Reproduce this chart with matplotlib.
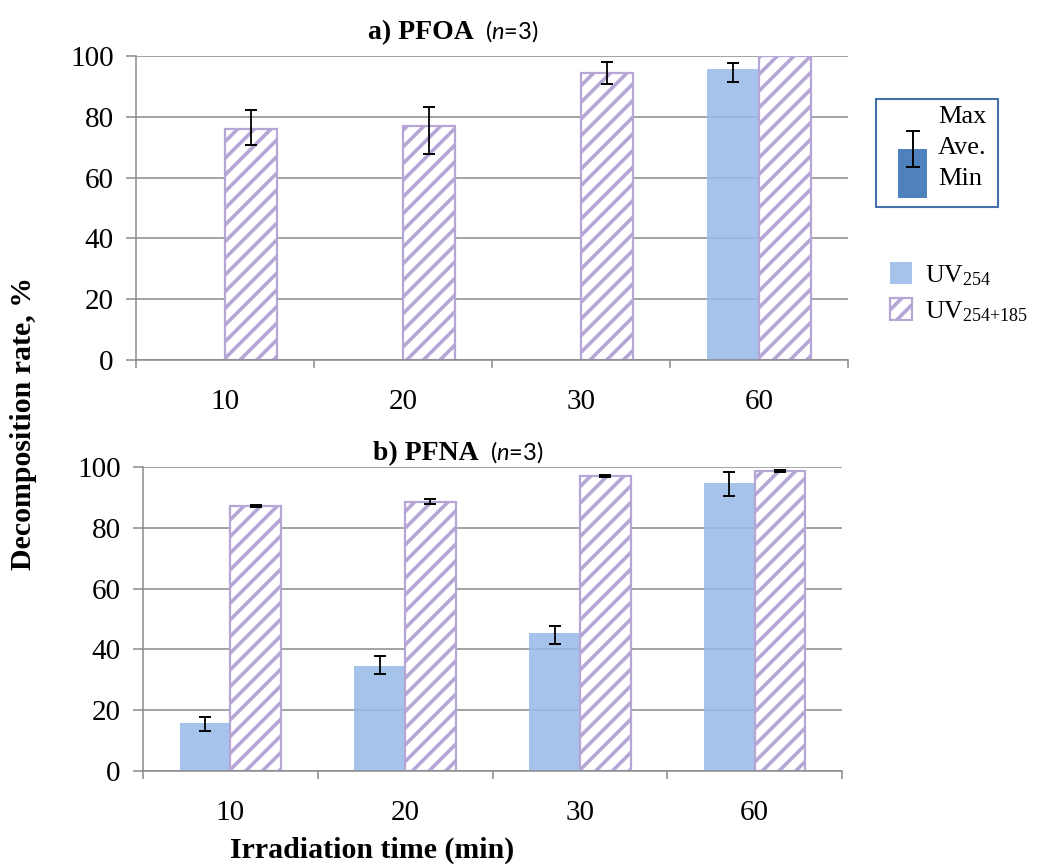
import numpy as np
import matplotlib
matplotlib.use("Agg")
import matplotlib.pyplot as plt
from matplotlib.patches import Rectangle
from matplotlib.lines import Line2D

plt.rcParams['font.family'] = ['Liberation Serif', 'DejaVu Serif']
plt.rcParams['mathtext.fontset'] = 'custom'
plt.rcParams['mathtext.rm'] = 'Liberation Serif'
plt.rcParams['mathtext.it'] = 'Lato:italic'
plt.rcParams['mathtext.bf'] = 'Liberation Serif:bold'
plt.rcParams['hatch.linewidth'] = 2.6

times = ['10', '20', '30', '60']
series = ['UV$_{254}$', 'UV$_{254{+}185}$']

# a) PFOA, average / min / max of n=3
pfoa_uv254 = [0, 0, 0, 95.6]
pfoa_uv254_min = [np.nan, np.nan, np.nan, 91.4]
pfoa_uv254_max = [np.nan, np.nan, np.nan, 97.7]
pfoa_uv185 = [76.0, 77.0, 94.4, 100.0]
pfoa_uv185_min = [70.7, 67.8, 90.8, np.nan]
pfoa_uv185_max = [82.2, 83.2, 98.0, np.nan]

# b) PFNA
pfna_uv254 = [15.8, 34.5, 45.4, 94.7]
pfna_uv254_min = [13.2, 31.9, 41.8, 90.5]
pfna_uv254_max = [17.8, 37.8, 47.7, 98.4]
pfna_uv185 = [87.2, 88.5, 97.0, 98.8]
pfna_uv185_min = [86.9, 87.8, 96.8, 98.5]
pfna_uv185_max = [87.5, 89.5, 97.3, 99.1]

blue = (0.592, 0.728, 0.908, 0.85)
purple = '#B6A6D6'
gray = '#8A8A8A'
W, H = 1041, 866


def draw_panel(ax, v1, lo1, hi1, v2, lo2, hi2):
    x = np.arange(len(times))
    w = 0.29
    b1 = ax.bar(x - w/2, v1, w, color=blue, linewidth=0, zorder=2)
    b2 = ax.bar(x + w/2, v2, w, facecolor='white', edgecolor=purple,
                hatch='//', linewidth=1.6, zorder=2)
    for xs, v, lo, hi in [(x - w/2, v1, lo1, hi1), (x + w/2, v2, lo2, hi2)]:
        v = np.asarray(v, float)
        err = [v - np.asarray(lo), np.asarray(hi) - v]
        ax.errorbar(xs, v, yerr=err, fmt='none', ecolor='black',
                    elinewidth=1.3, capsize=4.2, capthick=1.4, zorder=3)
    ax.set_xlim(-0.5, 3.5)
    ax.set_ylim(0, 100)
    ax.set_yticks(range(0, 101, 20))
    ax.set_xticks(x)
    ax.set_xticklabels(times)
    ax.set_xticks(np.arange(-0.5, 4, 1), minor=True)
    ax.tick_params(axis='x', which='major', length=0, pad=21, labelsize=21)
    ax.tick_params(axis='x', which='minor', length=5.5, width=1.1, color=gray)
    ax.tick_params(axis='y', length=7, width=1.1, color=gray, pad=9,
                   labelsize=21)
    ax.yaxis.grid(True, color=gray, linewidth=1.1)
    ax.set_axisbelow(True)
    for s in ['top', 'right']:
        ax.spines[s].set_visible(False)
    for s in ['left', 'bottom']:
        ax.spines[s].set_color(gray)
        ax.spines[s].set_linewidth(1.1)
    return b1, b2


fig = plt.figure(figsize=(W/100, H/100), dpi=100)
ax1 = fig.add_axes([136/W, 1 - 360/H, 712/W, 304/H])
ax2 = fig.add_axes([143/W, 1 - 771/H, 699/W, 304/H])

b1, b2 = draw_panel(ax1, pfoa_uv254, pfoa_uv254_min, pfoa_uv254_max,
                    pfoa_uv185, pfoa_uv185_min, pfoa_uv185_max)
draw_panel(ax2, pfna_uv254, pfna_uv254_min, pfna_uv254_max,
           pfna_uv185, pfna_uv185_min, pfna_uv185_max)

# titles
fig.text(474/W, 1 - 39/H, 'a) PFOA', ha='right', va='baseline',
         fontsize=20, fontweight='bold')
fig.text(485/W, 1 - 39/H, '($n$=3)', ha='left', va='baseline',
         fontsize=17, family='Lato')
fig.text(479/W, 1 - 460/H, 'b) PFNA', ha='right', va='baseline',
         fontsize=20, fontweight='bold')
fig.text(490/W, 1 - 460/H, '($n$=3)', ha='left', va='baseline',
         fontsize=17, family='Lato')

fig.text(24/W, 1 - 423/H, 'Decomposition rate, %', rotation=90,
         ha='center', va='center', fontsize=21.5, fontweight='bold')
fig.text(372/W, 1 - 858/H, 'Irradiation time (min)', ha='center',
         va='baseline', fontsize=21.5, fontweight='bold')

# Max / Ave. / Min key
tf = fig.transFigure
fig.add_artist(Rectangle((876/W, 1 - 207/H), 122/W, 108/H, transform=tf,
                         facecolor='white', edgecolor='#4472A8', linewidth=1.5))
fig.add_artist(Rectangle((898/W, 1 - 198/H), 29/W, 49/H, transform=tf,
                         facecolor='#4F81BD', edgecolor='none'))
fig.add_artist(Line2D([913/W, 913/W], [1 - 131/H, 1 - 167/H], transform=tf,
                      color='black', linewidth=1.4))
for yy in [131, 167]:
    fig.add_artist(Line2D([907/W, 919/W], [1 - yy/H, 1 - yy/H], transform=tf,
                          color='black', linewidth=1.4))
for txt, yy in [('Max', 117), ('Ave.', 148), ('Min', 179)]:
    fig.text(938/W, 1 - yy/H, txt, ha='left', va='center', fontsize=19)

fig.legend([b1, b2], series, loc='upper left',
           bbox_to_anchor=(890/W, 1 - 262/H), frameon=False, borderpad=0,
           borderaxespad=0, fontsize=18.5, handlelength=0.85,
           handleheight=0.95, handletextpad=0.5, labelspacing=0.4)

fig.savefig('out.png', dpi=100)
